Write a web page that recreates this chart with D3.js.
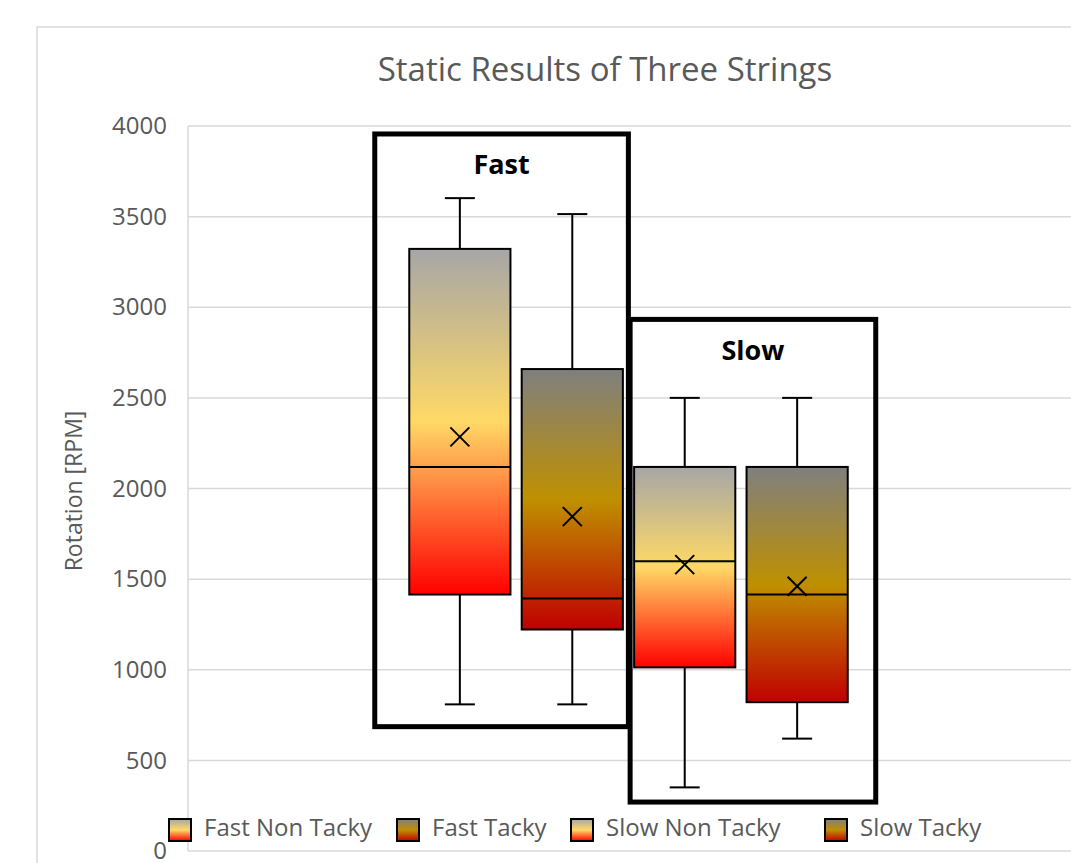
<!DOCTYPE html>
<html lang="en">
<head>
  <meta charset="utf-8">
  <title>Static Results of Three Strings</title>
  <script src="https://d3js.org/d3.v7.min.js"></script>
  <style>
    body { margin: 0; background: #fff; }
    svg { display: block; font-family: "Open Sans", sans-serif; }
  </style>
</head>
<body>
  <svg class="chart"></svg>
  <script>
  // box plot values
  const series = ["Fast Non Tacky", "Fast Tacky", "Slow Non Tacky", "Slow Tacky"];
  const minVals = [809, 809, 351, 620];
  const q1Vals = [1415, 1222, 1013, 821];
  const medianVals = [2119, 1393, 1599, 1415];
  const q3Vals = [3322, 2659, 2119, 2119];
  const maxVals = [3602, 3514, 2500, 2500];
  const meanVals = [2285, 1845, 1580, 1461];
  const yTicks = [0, 500, 1000, 1500, 2000, 2500, 3000, 3500, 4000];

  // the two black frames drawn round the groups
  const groups = ["Fast", "Slow"];
  const groupFirst = ["Fast Non Tacky", "Slow Non Tacky"];
  const groupLast = ["Fast Tacky", "Slow Tacky"];
  const groupTop = [3956, 2933];
  const groupBottom = [686, 270];

  const width = 1071, height = 863;
  const margins = { top: 126, bottom: 12, left: 188, right: 2 };

  const svg = d3.select(".chart").attr("width", width).attr("height", height);

  const defs = svg.append("defs");
  const gradStops = {
    nonTacky: [["0%", "#a6a6a6"], ["50%", "#ffd966"], ["100%", "#ff0000"]],
    tacky: [["0%", "#7f7f7f"], ["50%", "#bf9000"], ["100%", "#c00000"]]
  };
  Object.keys(gradStops).forEach(function(k) {
    const g = defs.append("linearGradient").attr("id", "grad-" + k)
      .attr("x1", 0).attr("y1", 0).attr("x2", 0).attr("y2", 1);
    gradStops[k].forEach(s => g.append("stop").attr("offset", s[0]).attr("stop-color", s[1]));
  });
  const fillOf = name => name.indexOf("Non") >= 0 ? "url(#grad-nonTacky)" : "url(#grad-tacky)";

  // chart border
  svg.append("rect").attr("x", 37).attr("y", 27).attr("width", 1100).attr("height", 900)
    .attr("fill", "#fff").attr("stroke", "#d9d9d9").attr("stroke-width", 1.5);

  const x = d3.scaleBand().domain(series)
    .range([margins.left, width - margins.right])
    .paddingInner(0.1).paddingOuter(1.968);
  const y = d3.scaleLinear().domain([0, 4000])
    .range([height - margins.bottom, margins.top]);

  // grid lines
  svg.append("g").selectAll("line").data(yTicks).enter().append("line")
    .attr("x1", margins.left).attr("x2", width)
    .attr("y1", d => y(d)).attr("y2", d => y(d))
    .attr("stroke", "#d9d9d9").attr("stroke-width", 1.5);

  svg.append("line").attr("x1", margins.left).attr("x2", margins.left)
    .attr("y1", y(4000)).attr("y2", y(0))
    .attr("stroke", "#d9d9d9").attr("stroke-width", 1.5);

  const yAxis = d3.axisLeft(y).tickValues(yTicks).tickSize(0).tickPadding(21)
    .tickFormat(d3.format("d"));
  svg.append("g").attr("id", "y-axis")
    .attr("transform", "translate(" + margins.left + ",0)")
    .call(yAxis)
    .call(g => g.select(".domain").remove())
    .selectAll("text")
    .attr("fill", "#595959").style("font-size", "24px").style("font-family", "Open Sans");

  svg.append("text").attr("transform", "translate(76," + 491 + ") rotate(-90)")
    .attr("text-anchor", "middle").attr("dominant-baseline", "middle")
    .attr("fill", "#595959").style("font-size", "23px")
    .text("Rotation [RPM]");

  svg.append("text").attr("x", 605).attr("y", 72)
    .attr("text-anchor", "middle").attr("dominant-baseline", "middle")
    .attr("fill", "#595959").style("font-size", "33px")
    .text("Static Results of Three Strings");

  // boxes
  const rows = series.map((s, i) => ({
    name: s, min: minVals[i], q1: q1Vals[i], med: medianVals[i],
    q3: q3Vals[i], max: maxVals[i], mean: meanVals[i]
  }));
  const bw = x.bandwidth();
  const box = svg.append("g").selectAll("g").data(rows).enter().append("g");

  box.append("line").attr("x1", d => x(d.name) + bw / 2).attr("x2", d => x(d.name) + bw / 2)
    .attr("y1", d => y(d.max)).attr("y2", d => y(d.q3))
    .attr("stroke", "#000").attr("stroke-width", 2);
  box.append("line").attr("x1", d => x(d.name) + bw / 2).attr("x2", d => x(d.name) + bw / 2)
    .attr("y1", d => y(d.q1)).attr("y2", d => y(d.min))
    .attr("stroke", "#000").attr("stroke-width", 2);
  ["max", "min"].forEach(function(k) {
    box.append("line").attr("x1", d => x(d.name) + bw / 2 - 15).attr("x2", d => x(d.name) + bw / 2 + 15)
      .attr("y1", d => y(d[k])).attr("y2", d => y(d[k]))
      .attr("stroke", "#000").attr("stroke-width", 2);
  });
  box.append("rect").attr("x", d => x(d.name)).attr("width", bw)
    .attr("y", d => y(d.q3)).attr("height", d => y(d.q1) - y(d.q3))
    .attr("fill", d => fillOf(d.name)).attr("stroke", "#000").attr("stroke-width", 2);
  box.append("line").attr("x1", d => x(d.name)).attr("x2", d => x(d.name) + bw)
    .attr("y1", d => y(d.med)).attr("y2", d => y(d.med))
    .attr("stroke", "#000").attr("stroke-width", 2);
  box.append("path")
    .attr("d", function(d) {
      const cx = x(d.name) + bw / 2, cy = y(d.mean), r = 9.5;
      return "M" + (cx - r) + "," + (cy - r) + "L" + (cx + r) + "," + (cy + r) +
        "M" + (cx - r) + "," + (cy + r) + "L" + (cx + r) + "," + (cy - r);
    })
    .attr("stroke", "#000").attr("stroke-width", 2).attr("fill", "none");

  // group frames
  const frames = groups.map((g, i) => ({
    label: g,
    x0: i === 0 ? x(groupFirst[i]) - 34.5 : x(groupFirst[i]) - 4,
    x1: i === 0 ? x(groupLast[i]) + bw + 5.5 : x(groupLast[i]) + bw + 28,
    top: groupTop[i], bottom: groupBottom[i]
  }));
  const fr = svg.append("g").selectAll("g").data(frames).enter().append("g");
  fr.append("rect").attr("x", d => d.x0).attr("y", d => y(d.top))
    .attr("width", d => d.x1 - d.x0).attr("height", d => y(d.bottom) - y(d.top))
    .attr("fill", "none").attr("stroke", "#000").attr("stroke-width", 5);
  fr.append("text").attr("x", d => (d.x0 + d.x1) / 2).attr("y", d => y(d.top) + 33)
    .attr("text-anchor", "middle").attr("dominant-baseline", "middle")
    .style("font-size", "27px").style("font-weight", "bold").attr("fill", "#000")
    .text(d => d.label);

  // legend
  const legendX = [168, 396, 570, 824];
  const lg = svg.append("g").selectAll("g").data(series).enter().append("g")
    .attr("transform", (d, i) => "translate(" + legendX[i] + ",818)");
  lg.append("rect").attr("x", 1).attr("y", 1).attr("width", 22).attr("height", 22)
    .attr("fill", d => fillOf(d)).attr("stroke", "#000").attr("stroke-width", 2);
  lg.append("text").attr("x", 36).attr("y", 12).attr("dominant-baseline", "middle")
    .attr("fill", "#595959").style("font-size", "24px")
    .text(d => d);
  </script>
</body>
</html>
